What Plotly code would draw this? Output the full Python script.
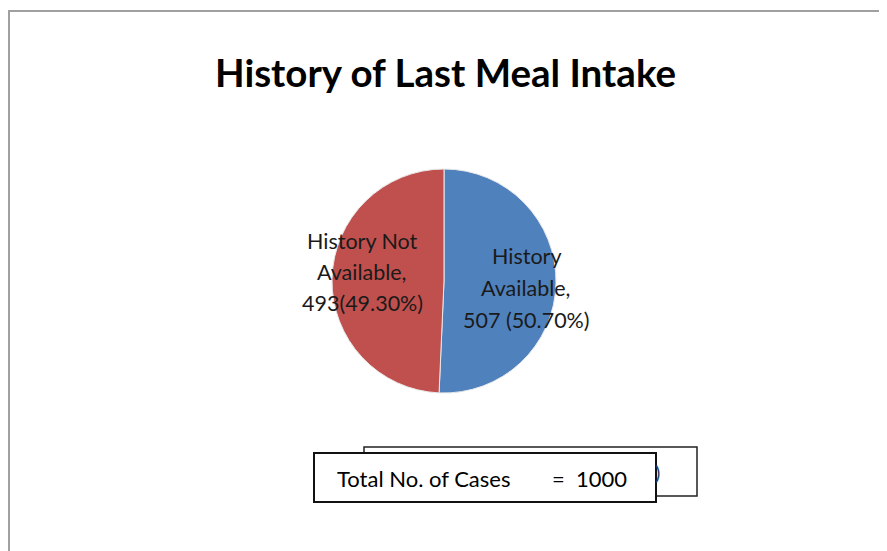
import plotly.graph_objects as go

# Data
categories = ["History Available", "History Not Available"]
values = [507, 493]
percents = [50.70, 49.30]
total_cases = 1000
total_label = "Total No. of Cases"
title_text = "History of Last Meal Intake"
colors = ["#4F81BD", "#C0504D"]

# The page body has an 8px margin, so the figure starts at (8, 8)
OFF = 8
W, H = 887 - OFF, 551 - OFF

def px(x):
    return (x - OFF) / W

def py(y):
    return 1 - (y - OFF) / H

fig = go.Figure()
fig.add_trace(go.Pie(
    labels=categories,
    values=values,
    sort=False,
    direction="clockwise",
    rotation=0,
    marker=dict(colors=colors, line=dict(color="#E8E8E8", width=1)),
    textinfo="none",
    hoverinfo="label+value+percent",
    showlegend=False,
    domain=dict(x=[px(332), px(556)], y=[py(393), py(169)]),
))

font_family = "Lato, 'Open Sans', sans-serif"
label_font = dict(family=font_family, size=21.5, color="#1a1a1a")

# Slice labels built from data, one annotation per line for Excel-like spacing
lines_avail = ["History", "Available,", f"{values[0]} ({percents[0]:.2f}%)"]
lines_not = ["History Not", "Available,", f"{values[1]}({percents[1]:.2f}%)"]

annotations = [
    dict(text=f"<b>{title_text}</b>", x=px(445), y=py(72), xref="paper", yref="paper",
         showarrow=False, font=dict(family=font_family, size=38.5, color="#000000"),
         xanchor="center", yanchor="middle"),
]
for txt, yc in zip(lines_avail, [256, 288, 320]):
    annotations.append(dict(text=txt, x=px(526), y=py(yc), xref="paper", yref="paper",
                            showarrow=False, font=label_font,
                            xanchor="center", yanchor="middle"))
for txt, yc in zip(lines_not, [241, 272, 303]):
    annotations.append(dict(text=txt, x=px(362), y=py(yc), xref="paper", yref="paper",
                            showarrow=False, font=label_font,
                            xanchor="center", yanchor="middle"))

annotations += [
    dict(text=")", x=px(657), y=py(472), xref="paper", yref="paper",
         showarrow=False, font=dict(family=font_family, size=20, color="#1F3A60"),
         xanchor="center", yanchor="middle"),
    dict(text=total_label, x=px(335), y=py(478), xref="paper", yref="paper",
         showarrow=False, font=dict(family=font_family, size=22, color="#000000"),
         xanchor="left", yanchor="middle"),
    dict(text=f"=&nbsp;&nbsp;{total_cases}", x=px(550), y=py(478), xref="paper", yref="paper",
         showarrow=False, font=dict(family=font_family, size=22, color="#000000"),
         xanchor="left", yanchor="middle"),
]

shapes = [
    # outer chart border
    dict(type="rect", xref="paper", yref="paper", x0=px(9), y0=py(600), x1=px(950), y1=py(11),
         line=dict(color="#A0A0A0", width=2), fillcolor="rgba(0,0,0,0)", layer="below"),
    # back box
    dict(type="rect", xref="paper", yref="paper", x0=px(364), y0=py(496), x1=px(697), y1=py(447),
         line=dict(color="#222222", width=1.5), fillcolor="white"),
    # front box
    dict(type="rect", xref="paper", yref="paper", x0=px(314), y0=py(502), x1=px(656), y1=py(453),
         line=dict(color="#111111", width=2), fillcolor="white"),
]

fig.update_layout(
    width=W, height=H,
    margin=dict(l=0, r=0, t=0, b=0),
    paper_bgcolor="white",
    plot_bgcolor="white",
    annotations=annotations,
    shapes=shapes,
)

fig.write_html("out.html")
